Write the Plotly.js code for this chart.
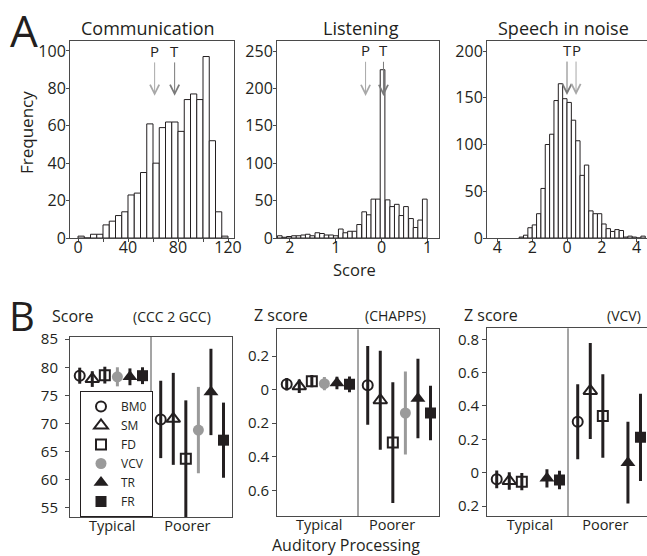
<!DOCTYPE html>
<html><head><meta charset="utf-8">
<script src="https://cdn.plot.ly/plotly-3.0.1.min.js"></script>
<style>html,body{margin:0;padding:0;background:#fff;}#chart{width:647px;height:556px;}</style>
</head><body><div id="chart"></div>
<script>
// ---------- Panel A : histograms ----------
const commBinCenters = [2.5,7.5,12.5,17.5,22.5,27.5,32.5,37.5,42.5,47.5,52.5,57.5,62.5,67.5,72.5,77.5,82.5,87.5,92.5,97.5,102.5,107.5,112.5,117.5];
const commCounts = [1,0,2,2,7,9,12,14,23,24,35,61,40,59,62,62,57,74,77,74,97,52,14,1];
const commArrowX = [61.3, 77.3];
const commArrowLabels = ['P','T'];

const listenBinCenters = [-2.22,-2.12,-2.02,-1.91,-1.81,-1.71,-1.61,-1.51,-1.40,-1.30,-1.20,-1.10,-1.00,-0.89,-0.79,-0.69,-0.59,-0.49,-0.38,-0.28,-0.18,-0.08,0.02,0.13,0.23,0.33,0.43,0.53,0.64,0.74,0.84,0.94];
const listenCounts = [3,1,2,3,3,4,5,3,7,6,4,4,3,12,7,9,9,18,35,31,52,52,225,51,42,45,30,42,26,14,24,52];
const listenArrowX = [-0.35, 0.04];
const listenArrowLabels = ['P','T'];

const speechBinCenters = [-2.625,-2.375,-2.125,-1.875,-1.625,-1.375,-1.125,-0.875,-0.625,-0.375,-0.125,0.125,0.375,0.625,0.875,1.125,1.375,1.625,1.875,2.125,2.375,2.625,2.875,3.125,3.375,3.625,3.875,4.125,4.375];
const speechCounts = [1,3,11,14,26,53,100,111,147,165,149,145,126,104,67,78,29,26,26,15,10,7,9,8,1,2,1,0,2];
const speechArrowX = [0.0, 0.52];
const speechArrowLabels = ['T','P'];

// ---------- Panel B : group means with error bars ----------
const measures = ['BM0','SM','FD','VCV','TR','FR'];
const groups = ['Typical','Poorer'];

const cccTypical    = [78.5, 77.9, 78.6, 78.3, 78.3, 78.5];
const cccTypicalErr = [1.43, 1.4, 1.5, 1.7, 1.5, 1.5];
const cccPoorer     = [70.7, 70.8, 63.7, 68.8, 75.6, 67.0];
const cccPoorerErr  = [6.9, 8.2, 10.4, 7.7, 7.7, 6.7];

const chappsTypical    = [0.032, 0.02, 0.051, 0.036, 0.04, 0.032];
const chappsTypicalErr = [0.037, 0.04, 0.037, 0.04, 0.037, 0.047];
const chappsPoorer     = [0.026, -0.063, -0.315, -0.139, -0.053, -0.139];
const chappsPoorerErr  = [0.235, 0.295, 0.36, 0.247, 0.237, 0.162];

const vcvTypical    = [-0.04, -0.05, -0.054, null, -0.034, -0.044];
const vcvTypicalErr = [0.053, 0.053, 0.052, null, 0.055, 0.056];
const vcvPoorer     = [0.306, 0.49, 0.34, null, 0.06, 0.212];
const vcvPoorerErr  = [0.225, 0.288, 0.25, null, 0.245, 0.262];

// ---------- styling ----------
const W = 647, H = 556;
const px = v => v / W;
const py = v => 1 - v / H;
const FONT = '"Open Sans", "Noto Sans", sans-serif';
const INK = '#231f20';
const AX = '#4a4a4a';
const GRAY = '#9a9a9a';

const styles = {
  BM0: {symbol:'circle-open', color:INK, size:10},
  SM:  {symbol:'triangle-up-open', color:INK, size:12},
  FD:  {symbol:'square-open', color:INK, size:10},
  VCV: {symbol:'circle', color:GRAY, size:11},
  TR:  {symbol:'triangle-up', color:INK, size:13},
  FR:  {symbol:'square', color:INK, size:11}
};

function axisBase(extra) {
  return Object.assign({
    showline:true, mirror:true, linecolor:AX, linewidth:1,
    ticks:'outside', ticklen:4, tickcolor:AX, tickwidth:1,
    showgrid:false, zeroline:false,
    tickfont:{family:FONT, size:15, color:INK}, fixedrange:true
  }, extra);
}
const aTick = {family:FONT, size:16, color:INK};
const gTick = {family:FONT, size:14.5, color:INK};

const traces = [];
traces.push({type:'bar', x:commBinCenters, y:commCounts, width:5,
  marker:{color:'#fff', line:{color:INK, width:1}}, xaxis:'x', yaxis:'y', showlegend:false, hoverinfo:'skip'});
traces.push({type:'bar', x:listenBinCenters, y:listenCounts, width:0.102,
  marker:{color:'#fff', line:{color:INK, width:1}}, xaxis:'x2', yaxis:'y2', showlegend:false, hoverinfo:'skip'});
traces.push({type:'bar', x:speechBinCenters, y:speechCounts, width:0.25,
  marker:{color:'#fff', line:{color:INK, width:1}}, xaxis:'x3', yaxis:'y3', showlegend:false, hoverinfo:'skip'});

// x position of each measure inside a group
const groupX = (g, k) => g + 0.12 + k * 0.155;

function addPanel(typ, typErr, poor, poorErr, xa, ya, legend) {
  measures.forEach((m, k) => {
    if (typ[k] === null) return;
    const s = styles[m];
    const open = s.symbol.indexOf('open') >= 0;
    traces.push({
      type:'scatter', mode:'markers', name:m,
      x:[groupX(0,k), groupX(1,k)], y:[typ[k], poor[k]],
      error_y:{type:'data', array:[typErr[k], poorErr[k]], visible:true, color:s.color, thickness:3, width:0},
      marker:{symbol:s.symbol, color:s.color, size:s.size, line:{color:s.color, width: open ? 2 : 0}},
      xaxis:xa, yaxis:ya, showlegend:legend, cliponaxis:true, hoverinfo:'skip'
    });
  });
}
addPanel(cccTypical, cccTypicalErr, cccPoorer, cccPoorerErr, 'x4', 'y4', true);
addPanel(chappsTypical, chappsTypicalErr, chappsPoorer, chappsPoorerErr, 'x5', 'y5', false);
addPanel(vcvTypical, vcvTypicalErr, vcvPoorer, vcvPoorerErr, 'x6', 'y6', false);

const annotations = [];
function txt(text, x, y, size, extra) {
  annotations.push(Object.assign({text:text, x:px(x), y:py(y), xref:'paper', yref:'paper',
    showarrow:false, xanchor:'center', yanchor:'middle', font:{family:FONT, size:size, color:INK}}, extra||{}));
}
// panel letters and titles
txt('A', 24, 30, 44);
txt('B', 22, 315, 40);
txt('Communication', 148, 28, 18);
txt('Listening', 361, 28, 18);
txt('Speech in noise', 563, 28, 18);
txt('Frequency', 26, 133, 17, {textangle:-90});
txt('Score', 354, 269, 16.5);
txt('Score', 50, 316, 16, {xanchor:'left'});
txt('(CCC 2 GCC)', 172, 316, 14);
txt('Z score', 252, 315, 16, {xanchor:'left'});
txt('(CHAPPS)', 395, 315, 14);
txt('Z score', 462, 315, 16, {xanchor:'left'});
txt('(VCV)', 624, 315, 14);
txt('Auditory Processing', 346, 544.8, 16);

// arrows
function arrows(xs, labels, tipY, labY, xa, ya) {
  xs.forEach((x, i) => {
    annotations.push({x:x, y:tipY, ax:x, ay:labY, xref:xa, yref:ya, axref:xa, ayref:ya,
      text:labels[i], showarrow:true, arrowhead:5, arrowsize:1.8, arrowwidth:1,
      arrowcolor: labels[i] === 'P' ? '#a8a8a8' : '#7a7a7a', standoff:0,
      font:{family:FONT, size:15, color:INK}});
  });
}
arrows(commArrowX, commArrowLabels, 76, 100, 'x', 'y');
arrows(listenArrowX, listenArrowLabels, 190, 251, 'x2', 'y2');
arrows(speechArrowX, speechArrowLabels, 153, 201, 'x3', 'y3');

const shapes = ['x4','x5','x6'].map((xa, i) => ({
  type:'line', xref:xa, yref:['y4','y5','y6'][i] + ' domain', x0:1, x1:1, y0:0, y1:1,
  line:{color:AX, width:1}
}));

const layout = {
  width:W, height:H, margin:{l:0, r:0, t:0, b:0},
  paper_bgcolor:'#fff', plot_bgcolor:'#fff', showlegend:true,
  font:{family:FONT, color:INK},
  xaxis: axisBase({domain:[px(70), px(234)], range:[-6.4, 124.8], anchor:'y', ticklen:3, ticklabelstandoff:-8, tickfont:aTick,
    tickvals:[0,20,40,60,80,100,120], ticktext:['0','','40','','80','','120']}),
  yaxis: axisBase({domain:[py(238), py(41)], range:[0, 105.3], anchor:'x', ticklen:3, ticklabelstandoff:-3, tickfont:aTick,
    tickvals:[0,20,40,60,80,100]}),
  xaxis2: axisBase({domain:[px(277), px(439)], range:[-2.28, 1.25], anchor:'y2', ticklen:3, ticklabelstandoff:-8, tickfont:aTick,
    tickvals:[-2,-1,0,1], ticktext:['2','1','0','1']}),
  yaxis2: axisBase({domain:[py(238), py(41)], range:[0, 263.4], anchor:'x2', ticklen:3, ticklabelstandoff:-3, tickfont:aTick,
    tickvals:[0,50,100,150,200,250]}),
  xaxis3: axisBase({domain:[px(487), 1], range:[-4.6, 4.6], anchor:'y3', ticklen:3, ticklabelstandoff:-8, tickfont:aTick,
    tickvals:[-4,-2,0,2,4], ticktext:['4','2','0','2','4']}),
  yaxis3: axisBase({domain:[py(238), py(41)], range:[0, 210.7], anchor:'x3', ticklen:3, ticklabelstandoff:-3, tickfont:aTick,
    tickvals:[0,50,100,150,200], mirror:false}),
  xaxis4: axisBase({domain:[px(70), px(232)], range:[0, 2], anchor:'y4', ticks:'', ticklabelstandoff:-4, tickfont:gTick,
    tickvals:[0.52, 1.45], ticktext:groups}),
  yaxis4: axisBase({domain:[py(517), py(337)], range:[53.3, 85.4], anchor:'x4', ticklabelstandoff:4,
    tickvals:[55,60,65,70,75,80,85]}),
  xaxis5: axisBase({domain:[px(277), px(439)], range:[0, 2], anchor:'y5', ticks:'', ticklabelstandoff:-4, tickfont:gTick,
    tickvals:[0.52, 1.42], ticktext:groups}),
  yaxis5: axisBase({domain:[py(516), py(329.3)], range:[-0.753, 0.36], anchor:'x5',
    tickvals:[0.2,0,-0.2,-0.4,-0.6], ticktext:['0.2','0','0.2','0.4','0.6']}),
  xaxis6: axisBase({domain:[px(487), 1], range:[0, 160/81], anchor:'y6', ticks:'', ticklabelstandoff:-4, tickfont:gTick,
    tickvals:[0.53, 1.46], ticktext:groups}),
  yaxis6: axisBase({domain:[py(516), py(328.3)], range:[-0.26, 0.866], anchor:'x6', mirror:false,
    tickvals:[0.8,0.6,0.4,0.2,0,-0.2], ticktext:['0.8','0.6','0.4','0.2','0','0.2']}),
  legend:{x:px(80), y:py(391), xanchor:'left', yanchor:'top', bgcolor:'#fff',
    bordercolor:INK, borderwidth:1, font:{family:FONT, size:12, color:INK},
    itemwidth:30, tracegroupgap:0},
  annotations:annotations, shapes:shapes
};

Plotly.newPlot('chart', traces, layout, {staticPlot:true, displayModeBar:false});
</script></body></html>
